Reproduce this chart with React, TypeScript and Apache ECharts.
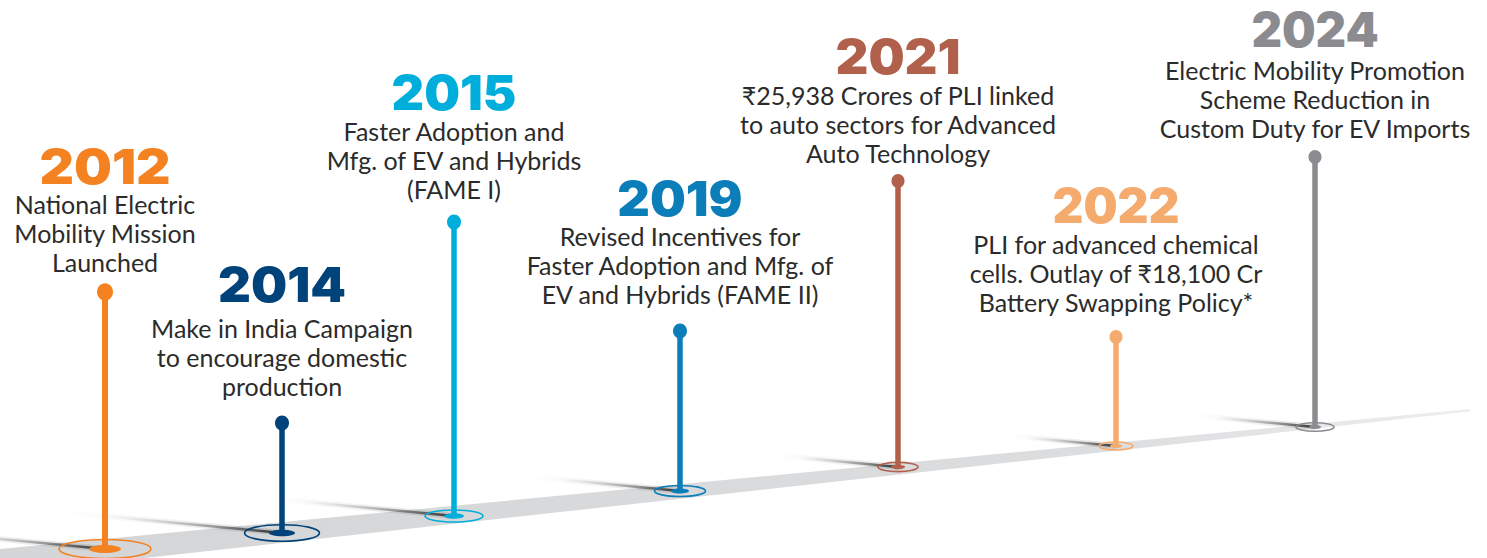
import React, { useEffect, useRef } from 'react';
import * as echarts from 'echarts';

// ---- Data ----
const years = ['2012', '2014', '2015', '2019', '2021', '2022', '2024'];
const descriptions = [
  ['National Electric', 'Mobility Mission', 'Launched'],
  ['Make in India Campaign', 'to encourage domestic', 'production'],
  ['Faster Adoption and', 'Mfg. of EV and Hybrids', '(FAME I)'],
  ['Revised Incentives for', 'Faster Adoption and Mfg. of', 'EV and Hybrids (FAME II)'],
  ['₹25,938 Crores of PLI linked', 'to auto sectors for Advanced', 'Auto Technology'],
  ['PLI for advanced chemical', 'cells. Outlay of ₹18,100 Cr', 'Battery Swapping Policy*'],
  ['Electric Mobility Promotion', 'Scheme Reduction in', 'Custom Duty for EV Imports'],
];
// positions along the timeline (data space of a 1487 x 558 board)
const pinX = [105, 282, 454, 680, 898, 1116, 1315];
const pinTop = [292, 423, 222, 331, 181, 337, 157];
const pinBase = [549, 533, 516, 491, 467, 446, 427];
const yearY = [166, 284, 92, 198.5, 56, 205, 30];
const descY = [233, 357, 160, 265, 124, 273, 98.5];
const roadX = [0, 1470];
const roadTop = [549, 409];
const roadBottom = [574, 411.5];

// ---- Styles ----
const colors = ['#F58220', '#00427A', '#00AEDB', '#0B7DB9', '#B0604B', '#F5AB6E', '#8C8C90'];
const yearScaleX = [1.1, 1.05, 1.04, 1.04, 1.05, 0.99, 0.975];
const ringRx = [46, 37.5, 29, 25.5, 20, 17, 19];
const ringRy = [9.5, 8.3, 6, 5.5, 4.6, 4, 4.3];
const coreRx = [16, 13, 10, 9, 7, 6, 6];
const coreRy = [4, 3.2, 2.8, 2.5, 2.2, 2, 2];
const stemW = [6, 5.5, 5.5, 5.5, 5.5, 5.5, 5.5];
const dotR = [8, 7, 7, 7, 6.5, 6.5, 6.5];
const shadowLen = [200, 220, 190, 150, 125, 110, 125];

const pinData = years.map((_, i) => [pinX[i], pinTop[i], pinBase[i]]);

export default function App() {
  const ref = useRef<HTMLDivElement>(null);
  useEffect(() => {
    document.body.style.margin = '0';
    if (!ref.current) return;
    const chart = echarts.init(ref.current, undefined, { renderer: 'svg' });
    const option: any = {
      animation: false,
      backgroundColor: '#ffffff',
      grid: { left: 0, right: 0, top: 0, bottom: 0 },
      xAxis: { type: 'value', min: 0, max: 1487, show: false },
      yAxis: { type: 'value', min: 0, max: 558, inverse: true, show: false },
      series: [
        {
          type: 'custom',
          name: 'road',
          silent: true,
          clip: false,
          data: [[0]],
          renderItem: (_p: any, api: any) => {
            const pts = [
              api.coord([roadX[0], roadTop[0]]),
              api.coord([roadX[1], roadTop[1]]),
              api.coord([roadX[1], roadBottom[1]]),
              api.coord([roadX[0], roadBottom[0]]),
            ];
            return {
              type: 'polygon',
              shape: { points: pts },
              style: {
                fill: new echarts.graphic.LinearGradient(0, 0, 1, 0, [
                  { offset: 0, color: '#d4d5d7' },
                  { offset: 0.75, color: '#dcdddf' },
                  { offset: 1, color: '#eeeeef' },
                ]),
              },
            };
          },
        },
        {
          type: 'custom',
          name: 'pins',
          silent: true,
          clip: false,
          data: pinData,
          renderItem: (params: any, api: any) => {
            const i = params.dataIndex;
            const x = api.value(0);
            const top = api.coord([x, api.value(1)]);
            const base = api.coord([x, api.value(2)]);
            const yr = api.coord([x, yearY[i]]);
            const ds = api.coord([x, descY[i]]);
            const c = colors[i];
            const L = shadowLen[i];
            const children: any[] = [
              {
                type: 'line',
                shape: { x1: base[0], y1: base[1], x2: base[0] - L, y2: base[1] - L * 0.095 },
                style: {
                  lineWidth: 6,
                  stroke: new echarts.graphic.LinearGradient(1, 0, 0, 0, [
                    { offset: 0, color: 'rgba(90,90,90,0.2)' },
                    { offset: 1, color: 'rgba(160,160,160,0)' },
                  ]),
                },
              },
              {
                type: 'line',
                shape: { x1: base[0], y1: base[1], x2: base[0] - L * 0.8, y2: base[1] - L * 0.8 * 0.095 },
                style: {
                  lineWidth: 2.5,
                  stroke: new echarts.graphic.LinearGradient(1, 0, 0, 0, [
                    { offset: 0, color: 'rgba(35,35,35,0.9)' },
                    { offset: 0.5, color: 'rgba(90,90,90,0.4)' },
                    { offset: 1, color: 'rgba(150,150,150,0)' },
                  ]),
                },
              },
              {
                type: 'ellipse',
                shape: { cx: base[0], cy: base[1], rx: ringRx[i], ry: ringRy[i] },
                style: { fill: 'none', stroke: c, lineWidth: 1.6 },
              },
              {
                type: 'ellipse',
                shape: { cx: base[0], cy: base[1], rx: coreRx[i], ry: coreRy[i] },
                style: { fill: c },
              },
              {
                type: 'line',
                shape: { x1: base[0], y1: base[1], x2: top[0], y2: top[1] },
                style: { stroke: c, lineWidth: stemW[i] },
              },
              {
                type: 'ellipse',
                shape: { cx: top[0], cy: top[1], rx: dotR[i], ry: dotR[i] * 1.08 },
                style: { fill: c },
              },
              {
                type: 'text',
                x: yr[0],
                y: yr[1],
                scaleX: yearScaleX[i],
                style: {
                  text: years[i],
                  x: 0,
                  y: 0,
                  fill: c,
                  fontFamily: 'Inter, Roboto, sans-serif',
                  fontWeight: 900,
                  fontSize: 48.5,
                  lineHeight: 40,
                  align: 'center',
                  verticalAlign: 'middle',
                },
              },
              {
                type: 'text',
                style: {
                  text: descriptions[i].join('\n'),
                  x: ds[0],
                  y: ds[1],
                  fill: '#2b2b2b',
                  fontFamily: 'Lato, "Open Sans", sans-serif',
                  fontSize: 25,
                  lineHeight: 29,
                  align: 'center',
                  verticalAlign: 'middle',
                },
              },
            ];
            return { type: 'group', children };
          },
        },
      ],
    };
    chart.setOption(option);
    return () => chart.dispose();
  }, []);
  return <div ref={ref} style={{ width: 1487, height: 558 }} />;
}
